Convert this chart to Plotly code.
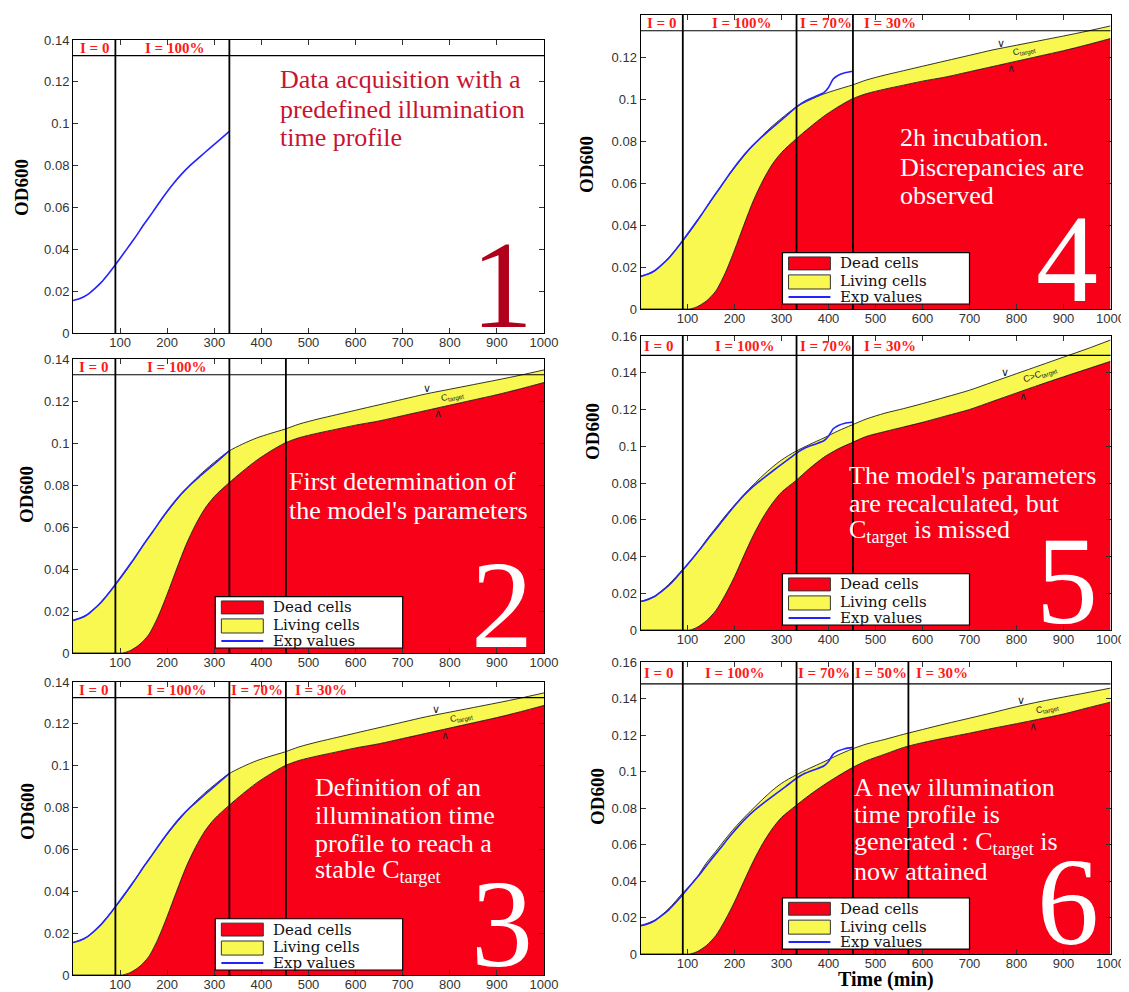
import numpy as np
import plotly.graph_objects as go

# ---------------- data ----------------
t_model = [0, 30, 60, 90, 105, 120, 140, 160, 180, 200, 220, 240, 260, 280, 300, 330,
           360, 390, 420, 450, 480, 520, 560, 600, 650, 700, 750, 800, 850, 900, 950, 1000]

# model A : panels 2, 3, 4
total_A = [0.0155, 0.0182, 0.0245, 0.0325, 0.0368, 0.0415, 0.0483, 0.0550, 0.0612, 0.0672,
           0.0728, 0.0780, 0.0828, 0.0870, 0.0908, 0.0960, 0.0995, 0.1024, 0.1046, 0.1066,
           0.1090, 0.1114, 0.1135, 0.1156, 0.1182, 0.1208, 0.1234, 0.1256, 0.1278, 0.1300,
           0.1323, 0.1348]
dead_A = [0, 0, 0, 0, 0, 0.0010, 0.0038, 0.0085, 0.0170, 0.0280, 0.0400, 0.0515, 0.0610,
          0.0688, 0.0745, 0.0808, 0.0865, 0.0918, 0.0962, 0.1000, 0.1025, 0.1047, 0.1066,
          0.1085, 0.1105, 0.1130, 0.1155, 0.1180, 0.1205, 0.1230, 0.1258, 0.1288]

# model B : panel 5
total_B = [0.0155, 0.0185, 0.0248, 0.0330, 0.0370, 0.0418, 0.0490, 0.0555, 0.0620, 0.0680,
           0.0738, 0.0790, 0.0840, 0.0885, 0.0925, 0.0972, 0.1010, 0.1045, 0.1083, 0.1116,
           0.1148, 0.1180, 0.1205, 0.1232, 0.1268, 0.1305, 0.1350, 0.1395, 0.1440, 0.1485,
           0.1530, 0.1578]
dead_B = [0, 0, 0, 0, 0, 0.0014, 0.0050, 0.0105, 0.0190, 0.0290, 0.0405, 0.0515, 0.0610,
          0.0688, 0.0750, 0.0812, 0.0880, 0.0940, 0.0985, 0.1020, 0.1053, 0.1080, 0.1105,
          0.1130, 0.1165, 0.1200, 0.1245, 0.1290, 0.1335, 0.1378, 0.1420, 0.1462]

# model C : panel 6
total_C = [0.0156, 0.0185, 0.0248, 0.0335, 0.0375, 0.0420, 0.0498, 0.0562, 0.0628, 0.0690,
           0.0746, 0.0798, 0.0848, 0.0895, 0.0935, 0.0980, 0.1018, 0.1053, 0.1090, 0.1123,
           0.1150, 0.1176, 0.1204, 0.1230, 0.1262, 0.1292, 0.1323, 0.1355, 0.1383, 0.1408,
           0.1432, 0.1457]
dead_C = [0, 0, 0, 0, 0, 0.0012, 0.0046, 0.0100, 0.0185, 0.0285, 0.0398, 0.0508, 0.0605,
          0.0685, 0.0748, 0.0812, 0.0872, 0.0926, 0.0975, 0.1020, 0.1058, 0.1095, 0.1132,
          0.1158, 0.1185, 0.1210, 0.1237, 0.1262, 0.1288, 0.1315, 0.1348, 0.1380]

# experimental OD600 values
t_exp = [0, 15, 30, 45, 60, 75, 90, 110, 130, 150, 170, 190, 210, 230, 250, 270, 290, 310, 332]
exp_od = [0.0155, 0.0165, 0.0182, 0.0210, 0.0242, 0.0282, 0.0326, 0.0388, 0.0450, 0.0517,
          0.0580, 0.0645, 0.0705, 0.0758, 0.0803, 0.0843, 0.0882, 0.0920, 0.0963]
t_exp_more = [350, 370, 390, 400, 410, 420, 435, 452]
exp_od_more = [0.0990, 0.1010, 0.1030, 0.1055, 0.1095, 0.1112, 0.1125, 0.1132]

# illumination switching times (min) and phase labels
switch_1 = [90, 332]
switch_2 = [90, 332, 452]
switch_6 = [90, 332, 452, 570]
phases_1 = ["I = 0", "I = 100%"]
phases_3 = ["I = 0", "I = 100%", "I = 70%", "I = 30%"]
phases_6 = ["I = 0", "I = 100%", "I = 70%", "I = 50%", "I = 30%"]

x_ticks = [100, 200, 300, 400, 500, 600, 700, 800, 900, 1000]
y_ticks_14 = [0, 0.02, 0.04, 0.06, 0.08, 0.1, 0.12, 0.14]
y_ticks_16 = [0, 0.02, 0.04, 0.06, 0.08, 0.1, 0.12, 0.14, 0.16]

legend_names = ["Dead cells", "Living cells", "Exp values"]

# ---------------- style / layout helpers ----------------
RED = "#f80018"
YELLOW = "#f8f850"
BLUE = "#2323ff"
HDR_RED = "#ff1a1a"
SERIF = "Liberation Serif"
LSERIF = "DejaVu Serif"

W, H = 1121, 984          # figure size (page body has an 8px margin)
OFF = 8


def fx(px):
    return (px - OFF) / W


def fy(py):
    return 1 - (py - OFF) / H


LEFT = [fx(73), fx(544)]
RIGHT = [fx(640.5), fx(1110.5)]

panels = [
    dict(xd=LEFT, yd=[fy(333), fy(40)], ymax=0.14, hdr=0.1325, model=None,
         exp_more=False, sw=switch_1, ph=phases_1, phx=[45, 215],
         lines=["Data acquisition with a", "predefined illumination", "time profile"],
         tx=278, ty=[80, 109, 137], tcol="#c81430", dig="1", dpos=(502, 285),
         dcol="#b0001c", ct=None),
    dict(xd=LEFT, yd=[fy(653), fy(359)], ymax=0.14, hdr=0.1325, model="A",
         exp_more=False, sw=switch_2, ph=phases_1, phx=[44, 219],
         lines=["First determination of", "the model's parameters"],
         tx=287, ty=[481, 510], tcol="white", dig="2", dpos=(502, 605), dcol="white",
         ct=("C<sub>target</sub>", 806, 751, 774, -12)),
    dict(xd=LEFT, yd=[fy(975), fy(682)], ymax=0.14, hdr=0.1325, model="A",
         exp_more=False, sw=switch_2, ph=phases_3, phx=[44, 219, 391, 527],
         lines=["Definition of an", "illumination time", "profile to reach a",
                "stable C<sub>target</sub>"],
         tx=313, ty=[787, 815, 843, 871], tcol="white", dig="3", dpos=(502, 924),
         dcol="white", ct=("C<sub>target</sub>", 824, 770, 790, -12)),
    dict(xd=RIGHT, yd=[fy(309), fy(15)], ymax=0.14, hdr=0.1325, model="A",
         exp_more=True, sw=switch_2, ph=phases_3, phx=[45, 214, 394, 530],
         lines=["2h incubation.", "Discrepancies are", "observed"],
         tx=897.6, ty=[138, 167, 195], tcol="white", dig="4", dpos=(1067, 259),
         dcol="white", ct=("C<sub>target</sub>", 818, 766, 788, -12)),
    dict(xd=RIGHT, yd=[fy(630), fy(336)], ymax=0.16, hdr=0.1495, model="B",
         exp_more=True, sw=switch_2, ph=phases_3, phx=[38, 221, 395, 531],
         lines=["The model's parameters", "are recalculated, but",
                "C<sub>target</sub> is missed"],
         tx=846.8, ty=[475, 503, 531], tcol="white", dig="5", dpos=(1067, 581),
         dcol="white", ct=("C>C<sub>target</sub>", 850, 775, 814, -19)),
    dict(xd=RIGHT, yd=[fy(954), fy(662)], ymax=0.16, hdr=0.148, model="C",
         exp_more=True, sw=switch_6, ph=phases_6, phx=[39, 200, 390, 511, 641],
         lines=["A new illumination", "time profile is",
                "generated : C<sub>target</sub> is", "now attained"],
         tx=852, ty=[787, 814, 843, 871], tcol="white", dig="6", dpos=(1068, 902),
         dcol="white", ct=("C<sub>target</sub>", 866, 810, 835, -13)),
]

models = {"A": (total_A, dead_A), "B": (total_B, dead_B), "C": (total_C, dead_C)}

od600_pos = [(22, 188), (27, 495), (27, 812), (586, 165), (592, 432), (597, 797)]

fig = go.Figure()
shapes = []
annotations = []

for i, p in enumerate(panels):
    n = i + 1
    xa = "x" if n == 1 else f"x{n}"
    ya = "y" if n == 1 else f"y{n}"
    xkey = "xaxis" if n == 1 else f"xaxis{n}"
    ykey = "yaxis" if n == 1 else f"yaxis{n}"

    if p["model"] is not None:
        tot, dead = models[p["model"]]
        fig.add_trace(go.Scatter(x=t_model, y=dead, mode="lines", fill="tozeroy",
                                 fillcolor=RED, line=dict(color="black", width=0.8,
                                                          shape="spline", smoothing=0.8),
                                 xaxis=xa, yaxis=ya, showlegend=False, hoverinfo="skip"))
        fig.add_trace(go.Scatter(x=t_model, y=tot, mode="lines", fill="tonexty",
                                 fillcolor=YELLOW, line=dict(color="black", width=0.8,
                                                             shape="spline", smoothing=0.8),
                                 xaxis=xa, yaxis=ya, showlegend=False, hoverinfo="skip"))
    tx_ = list(t_exp) + (t_exp_more if p["exp_more"] else [])
    ty_ = list(exp_od) + (exp_od_more if p["exp_more"] else [])
    fig.add_trace(go.Scatter(x=tx_, y=ty_, mode="lines",
                             line=dict(color=BLUE, width=1.6, shape="spline", smoothing=0.5),
                             xaxis=xa, yaxis=ya, showlegend=False, hoverinfo="skip"))

    yt = y_ticks_16 if p["ymax"] > 0.15 else y_ticks_14
    axis_common = dict(ticks="inside", ticklen=5, tickcolor="#333", showline=True,
                       linecolor="black", linewidth=1, mirror="ticks", showgrid=False,
                       zeroline=False,
                       tickfont=dict(family="Liberation Sans", size=13, color="#333"),
                       fixedrange=True, automargin=False)
    fig.update_layout(**{
        xkey: dict(domain=p["xd"], range=[0, 1000], anchor=ya, tickvals=x_ticks,
                   ticklabelstandoff=-3, **axis_common),
        ykey: dict(domain=p["yd"], range=[0, p["ymax"]], anchor=xa, tickvals=yt,
                   ticktext=[("%g" % v) for v in yt], **axis_common),
    })

    # header line and switching lines
    shapes.append(dict(type="line", xref=f"{xa} domain", yref=ya, x0=0, x1=1,
                       y0=p["hdr"], y1=p["hdr"], line=dict(color="black", width=1.2)))
    for s in p["sw"]:
        shapes.append(dict(type="line", xref=xa, yref=f"{ya} domain", x0=s, x1=s,
                           y0=0, y1=1, line=dict(color="black", width=1.8)))
    for lab, lx in zip(p["ph"], p["phx"]):
        annotations.append(dict(x=lx, y=(p["hdr"] + p["ymax"]) / 2, xref=xa, yref=ya,
                                text=f"<b>{lab}</b>", showarrow=False,
                                font=dict(family=SERIF, size=15, color=HDR_RED),
                                xanchor="center", yanchor="middle"))

    # descriptive text, one annotation per line
    for line, ly in zip(p["lines"], p["ty"]):
        annotations.append(dict(x=fx(p["tx"]), y=fy(ly), xref="paper", yref="paper",
                                text=line, showarrow=False, xanchor="left",
                                yanchor="middle",
                                font=dict(family=SERIF, size=26, color=p["tcol"])))
    # panel number
    dx, dy = p["dpos"]
    annotations.append(dict(x=fx(dx), y=fy(dy), xref="paper", yref="paper",
                            text=p["dig"], showarrow=False, xanchor="center",
                            yanchor="middle",
                            font=dict(family=SERIF, size=124, color=p["dcol"])))

    # OD600 label
    ox, oy = od600_pos[i]
    annotations.append(dict(x=fx(ox), y=fy(oy), xref="paper", yref="paper",
                            text="<b>OD600</b>", textangle=-90, showarrow=False,
                            xanchor="center", yanchor="middle",
                            font=dict(family=SERIF, size=19, color="black")))

    if p["model"] is not None:
        tot, dead = models[p["model"]]
        ctext, cx, cup, cdown, cang = p["ct"]
        cy = (np.interp(cx, t_model, tot) + np.interp(cx, t_model, dead)) / 2
        annotations.append(dict(x=cx, y=float(cy), xref=xa, yref=ya, text=ctext,
                                showarrow=False, textangle=cang, xanchor="center",
                                yanchor="middle",
                                font=dict(family="Liberation Sans", size=9, color="#222")))
        annotations.append(dict(x=cup, y=float(np.interp(cup, t_model, tot)), xref=xa,
                                yref=ya, text="∨", showarrow=False, yshift=5,
                                font=dict(family="DejaVu Sans", size=11, color="#222")))
        annotations.append(dict(x=cdown, y=float(np.interp(cdown, t_model, dead)), xref=xa,
                                yref=ya, text="∧", showarrow=False, yshift=-6,
                                font=dict(family="DejaVu Sans", size=11, color="#222")))

        # legend box
        xd_, yd_ = f"{xa} domain", f"{ya} domain"
        shapes.append(dict(type="rect", xref=xd_, yref=yd_, x0=0.302, x1=0.70, y0=0.017,
                           y1=0.192, fillcolor="white", line=dict(color="black", width=1.2)))
        shapes.append(dict(type="rect", xref=xd_, yref=yd_, x0=0.315, x1=0.404, y0=0.133,
                           y1=0.177, fillcolor=RED, line=dict(color="#333", width=1)))
        shapes.append(dict(type="rect", xref=xd_, yref=yd_, x0=0.315, x1=0.404, y0=0.068,
                           y1=0.116, fillcolor=YELLOW, line=dict(color="#333", width=1)))
        shapes.append(dict(type="line", xref=xd_, yref=yd_, x0=0.315, x1=0.404, y0=0.041,
                           y1=0.041, line=dict(color=BLUE, width=2)))
        for nm, ly in zip(legend_names, [0.155, 0.094, 0.041]):
            annotations.append(dict(x=0.421, y=ly, xref=xd_, yref=yd_, text=nm,
                                    showarrow=False, xanchor="left", yanchor="middle",
                                    font=dict(family=LSERIF, size=15, color="#111")))

annotations.append(dict(x=fx(886), y=fy(979), xref="paper", yref="paper",
                        text="<b>Time (min)</b>", showarrow=False, xanchor="center",
                        yanchor="middle", font=dict(family=SERIF, size=20, color="black")))

fig.update_layout(width=W, height=H, margin=dict(l=0, r=0, t=0, b=0),
                  paper_bgcolor="white", plot_bgcolor="white", showlegend=False,
                  shapes=shapes, annotations=annotations)

fig.write_html("out.html")
